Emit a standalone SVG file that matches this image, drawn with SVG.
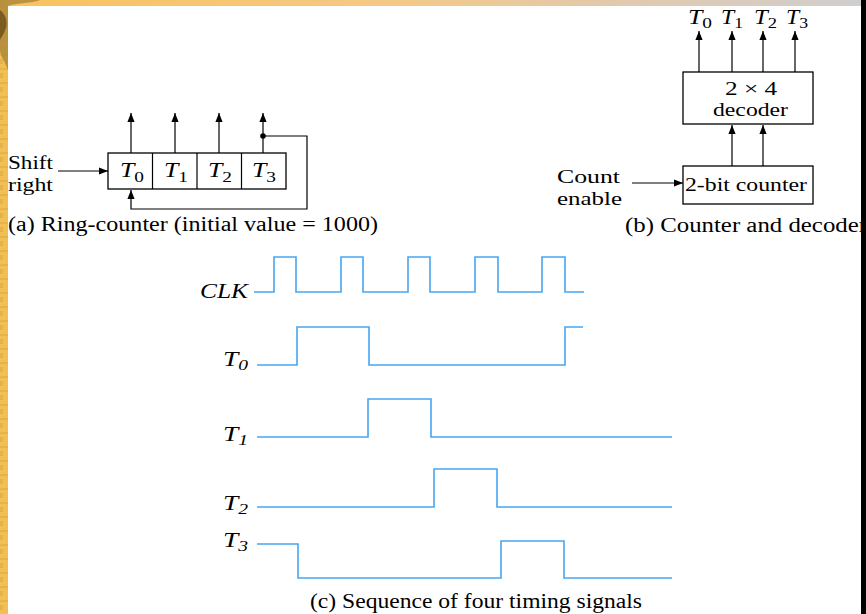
<svg xmlns="http://www.w3.org/2000/svg" width="866" height="614" viewBox="0 0 866 614">
<defs>
<linearGradient id="topg" x1="0" y1="0" x2="1" y2="0">
<stop offset="0" stop-color="#f9c25c"/>
<stop offset="0.45" stop-color="#f4c986"/>
<stop offset="0.7" stop-color="#e2c9ab"/>
<stop offset="1" stop-color="#cfcfcf"/>
</linearGradient>
<pattern id="tex" width="8" height="14" patternUnits="userSpaceOnUse">
<rect width="8" height="14" fill="#f2bf55"/>
<line x1="0" y1="13" x2="8" y2="13" stroke="#d9a83c" stroke-width="1"/>
<rect x="0" y="3" width="3" height="5" fill="#e5b14a"/>
</pattern>
<marker id="ah" viewBox="0 0 10 10" refX="10" refY="5" markerWidth="9" markerHeight="9" markerUnits="userSpaceOnUse" orient="auto">
<path d="M0,1 L10,5 L0,9 z" fill="#000"/>
</marker>
<style>
.t{font-family:"Liberation Serif","Times New Roman",serif;fill:#000;font-size:19px}
.c{font-size:20px}
.ti{font-family:"Liberation Serif","Times New Roman",serif;fill:#000;font-style:italic}
.box{fill:#fff;stroke:#000;stroke-width:1.3}
.w{fill:none;stroke:#000;stroke-width:1.2}
.a{fill:none;stroke:#000;stroke-width:1.2;marker-end:url(#ah)}
.sig{fill:none;stroke:#45a6f2;stroke-width:1.6}
</style>
</defs>
<rect width="866" height="614" fill="#ffffff"/>
<g id="background">
<rect x="0" y="0" width="866" height="6" fill="url(#topg)"/>
<rect x="0" y="0" width="8" height="614" fill="url(#tex)"/>
<path d="M0,0 L40,0 C30,4 20,2 8,6 L8,70 C4,60 0,55 0,50 z" fill="#b0893a" opacity="0.85"/>
<path d="M0,10 C5,14 8,20 6,28 C4,34 2,36 0,40 z" fill="#6b4e1c" opacity="0.8"/>
<rect x="861" y="0" width="5" height="614" fill="#000"/>
</g>

<g id="ring-counter">
<rect class="box" x="108" y="153" width="178" height="36"/>
<line class="w" x1="152.5" y1="153" x2="152.5" y2="189"/>
<line class="w" x1="197" y1="153" x2="197" y2="189"/>
<line class="w" x1="241.5" y1="153" x2="241.5" y2="189"/>
<text class="ti" x="120" y="177" font-size="20" textLength="24" lengthAdjust="spacingAndGlyphs">T<tspan font-style="normal" font-size="15" dy="5">0</tspan></text>
<text class="ti" x="164" y="177" font-size="20" textLength="24" lengthAdjust="spacingAndGlyphs">T<tspan font-style="normal" font-size="15" dy="5">1</tspan></text>
<text class="ti" x="208" y="177" font-size="20" textLength="24" lengthAdjust="spacingAndGlyphs">T<tspan font-style="normal" font-size="15" dy="5">2</tspan></text>
<text class="ti" x="252" y="177" font-size="20" textLength="24" lengthAdjust="spacingAndGlyphs">T<tspan font-style="normal" font-size="15" dy="5">3</tspan></text>
</g>
<g id="shift-right">
<text class="t" x="8" y="169" textLength="45" lengthAdjust="spacingAndGlyphs">Shift</text>
<text class="t" x="8" y="191" textLength="45" lengthAdjust="spacingAndGlyphs">right</text>
</g>
<g id="caption-a">
<text class="t c" x="8" y="231" textLength="370" lengthAdjust="spacingAndGlyphs">(a) Ring-counter (initial value = 1000)</text>
</g>

<g id="decoder">
<rect class="box" x="683" y="72" width="130" height="52"/>
<text class="t" x="725" y="95" textLength="52" lengthAdjust="spacingAndGlyphs">2 × 4</text>
<text class="t" x="713" y="116" textLength="75" lengthAdjust="spacingAndGlyphs">decoder</text>
</g>
<g id="counter">
<rect class="box" x="683" y="166" width="130" height="38"/>
<text class="t" x="685" y="191" textLength="122" lengthAdjust="spacingAndGlyphs">2-bit counter</text>
</g>
<g id="count-enable">
<text class="t" x="557" y="183" textLength="63" lengthAdjust="spacingAndGlyphs">Count</text>
<text class="t" x="557" y="205" textLength="65" lengthAdjust="spacingAndGlyphs">enable</text>
</g>
<g id="outputs-b">
<text class="ti" x="688" y="24" font-size="20" textLength="24" lengthAdjust="spacingAndGlyphs">T<tspan font-style="normal" font-size="15" dy="4">0</tspan></text>
<text class="ti" x="721" y="24" font-size="20" textLength="22" lengthAdjust="spacingAndGlyphs">T<tspan font-style="normal" font-size="15" dy="4">1</tspan></text>
<text class="ti" x="754" y="24" font-size="20" textLength="23" lengthAdjust="spacingAndGlyphs">T<tspan font-style="normal" font-size="15" dy="4">2</tspan></text>
<text class="ti" x="786" y="24" font-size="20" textLength="22" lengthAdjust="spacingAndGlyphs">T<tspan font-style="normal" font-size="15" dy="4">3</tspan></text>
</g>
<g id="caption-b">
<text class="t c" x="625" y="232" textLength="242" lengthAdjust="spacingAndGlyphs">(b) Counter and decoder</text>
</g>

<g id="connectors">
<line class="a" x1="131" y1="153" x2="131" y2="113"/>
<line class="a" x1="175" y1="153" x2="175" y2="113"/>
<line class="a" x1="219" y1="153" x2="219" y2="113"/>
<line class="a" x1="263" y1="153" x2="263" y2="113"/>
<circle cx="263" cy="136" r="2.8" fill="#000"/>
<polyline class="a" points="263,136 307,136 307,209 131,209 131,190"/>
<line class="a" x1="58" y1="171" x2="108" y2="171"/>
<line class="a" x1="699" y1="72" x2="699" y2="31"/>
<line class="a" x1="732" y1="72" x2="732" y2="31"/>
<line class="a" x1="763" y1="72" x2="763" y2="31"/>
<line class="a" x1="795" y1="72" x2="795" y2="31"/>
<line class="a" x1="732" y1="166" x2="732" y2="125"/>
<line class="a" x1="763" y1="166" x2="763" y2="125"/>
<line class="a" x1="632" y1="183" x2="683" y2="183"/>
</g>

<g id="timing">
<text class="ti" x="200" y="298" font-size="20" textLength="48" lengthAdjust="spacingAndGlyphs">CLK</text>
<polyline class="sig" points="254,292 274,292 274,257 296,257 296,292 341,292 341,257 363,257 363,292 408,292 408,257 430,257 430,292 475,292 475,257 498,257 498,292 542,292 542,257 565,257 565,292 584,292"/>
<text class="ti" x="223" y="366" font-size="21" textLength="25" lengthAdjust="spacingAndGlyphs">T<tspan font-size="15" dy="4">0</tspan></text>
<polyline class="sig" points="257,365 297,365 297,327 369,327 369,365 565,365 565,327 583,327"/>
<text class="ti" x="223" y="441" font-size="21" textLength="25" lengthAdjust="spacingAndGlyphs">T<tspan font-size="15" dy="4">1</tspan></text>
<polyline class="sig" points="257,437 368,437 368,399 431,399 431,437 672,437"/>
<text class="ti" x="223" y="510" font-size="21" textLength="25" lengthAdjust="spacingAndGlyphs">T<tspan font-size="15" dy="4">2</tspan></text>
<polyline class="sig" points="257,507 434,507 434,469 497,469 497,507 672,507"/>
<text class="ti" x="223" y="547" font-size="21" textLength="25" lengthAdjust="spacingAndGlyphs">T<tspan font-size="15" dy="4">3</tspan></text>
<polyline class="sig" points="257,544 298,544 298,578 501,578 501,541 564,541 564,578 672,578"/>
</g>
<g id="caption-c">
<text class="t c" x="310" y="608" textLength="332" lengthAdjust="spacingAndGlyphs">(c) Sequence of four timing signals</text>
</g>
</svg>
